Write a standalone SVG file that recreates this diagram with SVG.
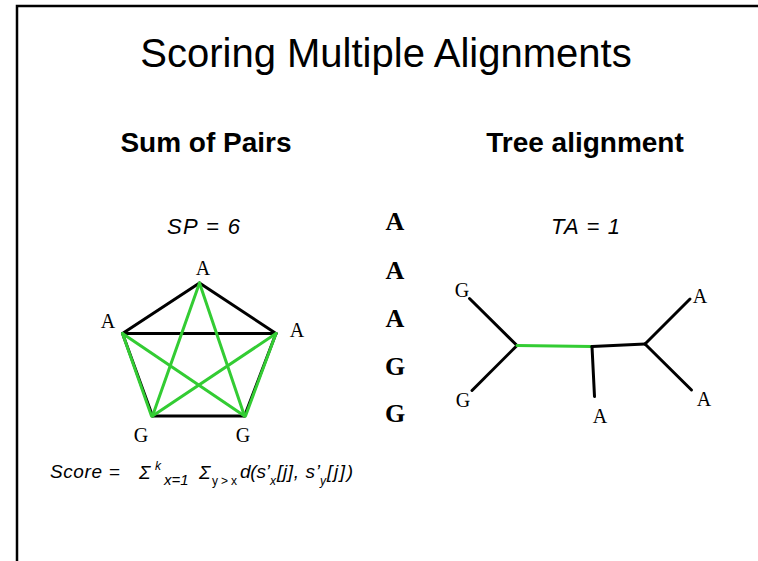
<svg xmlns="http://www.w3.org/2000/svg" width="758" height="561" viewBox="0 0 758 561">
<style>
.sans{font-family:"Liberation Sans",Arial,sans-serif;fill:#000}
.mono{font-family:"Liberation Serif","Times New Roman",serif;fill:#000}
.lbl{font-size:20px;text-anchor:middle}
.big{font-size:26px;font-weight:bold;text-anchor:middle}
.blk{stroke:#000;stroke-width:3;fill:none;stroke-linecap:round}
.grn{stroke:#33cc33;stroke-width:3;fill:none;stroke-linecap:round}
</style>
<rect width="758" height="561" fill="#fff"/>
<path d="M17,561 V6 H758" fill="none" stroke="#000" stroke-width="2.5"/>
<text class="sans" x="386" y="67" font-size="40" text-anchor="middle">Scoring Multiple Alignments</text>
<text class="sans" x="206" y="152" font-size="28" font-weight="bold" text-anchor="middle">Sum of Pairs</text>
<text class="sans" x="585" y="152" font-size="28" font-weight="bold" text-anchor="middle">Tree alignment</text>
<text class="sans" x="167" y="234" font-size="22" font-style="italic" textLength="73">SP = 6</text>
<text class="sans" x="551" y="234" font-size="22" font-style="italic" textLength="69">TA = 1</text>

<g id="sequence">
<text class="mono big" x="395" y="230">A</text>
<text class="mono big" x="395" y="279">A</text>
<text class="mono big" x="395" y="327">A</text>
<text class="mono big" x="395" y="375">G</text>
<text class="mono big" x="395" y="422">G</text>
</g>

<g id="sp-connectors">
<line class="blk" x1="199.5" y1="283" x2="122.5" y2="333.5"/>
<line class="blk" x1="199.5" y1="283" x2="276" y2="333.5"/>
<line class="blk" x1="122.5" y1="333.5" x2="276" y2="333.5"/>
<line class="blk" x1="152.5" y1="416" x2="244.5" y2="416"/>
<line class="blk" x1="122.5" y1="333.5" x2="152.5" y2="416"/>
<line class="blk" x1="276" y1="333.5" x2="244.5" y2="416"/>
<line class="grn" x1="122.5" y1="333.5" x2="151.5" y2="416"/>
<line class="grn" x1="276" y1="333.5" x2="245.5" y2="416"/>
<line class="grn" x1="199.5" y1="283" x2="152.5" y2="416"/>
<line class="grn" x1="199.5" y1="283" x2="244.5" y2="416"/>
<line class="grn" x1="122.5" y1="333.5" x2="244.5" y2="416"/>
<line class="grn" x1="276" y1="333.5" x2="152.5" y2="416"/>
</g>
<g id="sp-nodes">
<text id="sp-top" class="mono lbl" x="203" y="275">A</text>
<text id="sp-left" class="mono lbl" x="108" y="328">A</text>
<text id="sp-right" class="mono lbl" x="297" y="337">A</text>
<text id="sp-bl" class="mono lbl" x="141" y="442">G</text>
<text id="sp-br" class="mono lbl" x="243" y="442">G</text>
</g>

<g id="ta-connectors">
<line class="blk" x1="469.5" y1="298.5" x2="517" y2="345.5"/>
<line class="blk" x1="472" y1="390.5" x2="517" y2="345.5"/>
<line class="grn" x1="517" y1="345.5" x2="592" y2="346.5"/>
<line class="blk" x1="592" y1="346.5" x2="645" y2="344"/>
<line class="blk" x1="592" y1="346.5" x2="594.5" y2="396.5"/>
<line class="blk" x1="645" y1="344" x2="690" y2="299"/>
<line class="blk" x1="645" y1="344" x2="691.5" y2="390"/>
</g>
<g id="ta-nodes">
<text id="ta-g1" class="mono lbl" x="462" y="297">G</text>
<text id="ta-g2" class="mono lbl" x="463" y="407">G</text>
<text id="ta-a1" class="mono lbl" x="600" y="423">A</text>
<text id="ta-a2" class="mono lbl" x="700" y="303">A</text>
<text id="ta-a3" class="mono lbl" x="704" y="406">A</text>
</g>

<g id="formula" class="sans" font-style="italic" font-size="19">
<text x="50" y="478" textLength="52">Score</text>
<text x="109" y="478" font-style="normal">=</text>
<text x="139" y="479" font-size="19" font-weight="normal">Σ</text>
<text x="155" y="470" font-size="12">k</text>
<text x="164" y="485" font-size="15">x=1</text>
<text x="199" y="479" font-size="19">Σ</text>
<text x="212" y="485" font-size="12" font-style="normal" textLength="25">y &gt; x</text>
<text x="240" y="478" textLength="30">d(s’</text>
<text x="270" y="485" font-size="12">x</text>
<text x="277" y="478" textLength="43">[j], s’</text>
<text x="320" y="485" font-size="12">y</text>
<text x="327" y="478" textLength="26">[j])</text>
</g>
</svg>
